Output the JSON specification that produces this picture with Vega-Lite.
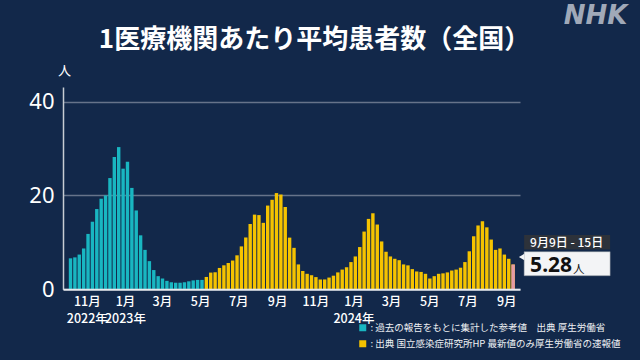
{
  "$schema": "https://vega.github.io/schema/vega-lite/v6.json",
  "width": 457,
  "height": 202.3,
  "autosize": {"type": "none"},
  "padding": {"left": 63, "top": 87, "right": 120, "bottom": 70.7},
  "background": "#12284a",
  "title": {
    "text": "1医療機関あたり平均患者数（全国）",
    "color": "#ffffff",
    "fontSize": 26,
    "fontWeight": "bold",
    "font": "Noto Sans CJK JP",
    "anchor": "middle",
    "frame": "group",
    "dx": 23,
    "offset": -50
  },
  "datasets": {
    "weekly": [
      {"date": "2022-10-06", "value": 6.6, "series": "A"},
      {"date": "2022-10-13", "value": 6.8, "series": "A"},
      {"date": "2022-10-20", "value": 7.4, "series": "A"},
      {"date": "2022-10-27", "value": 8.7, "series": "A"},
      {"date": "2022-11-03", "value": 11.8, "series": "A"},
      {"date": "2022-11-10", "value": 14.4, "series": "A"},
      {"date": "2022-11-17", "value": 17.1, "series": "A"},
      {"date": "2022-11-24", "value": 19.3, "series": "A"},
      {"date": "2022-12-01", "value": 20.0, "series": "A"},
      {"date": "2022-12-08", "value": 23.7, "series": "A"},
      {"date": "2022-12-15", "value": 28.2, "series": "A"},
      {"date": "2022-12-22", "value": 30.3, "series": "A"},
      {"date": "2022-12-29", "value": 25.7, "series": "A"},
      {"date": "2023-01-05", "value": 27.2, "series": "A"},
      {"date": "2023-01-12", "value": 21.6, "series": "A"},
      {"date": "2023-01-19", "value": 16.8, "series": "A"},
      {"date": "2023-01-26", "value": 11.5, "series": "A"},
      {"date": "2023-02-02", "value": 8.4, "series": "A"},
      {"date": "2023-02-09", "value": 6.0, "series": "A"},
      {"date": "2023-02-16", "value": 4.1, "series": "A"},
      {"date": "2023-02-23", "value": 2.8, "series": "A"},
      {"date": "2023-03-02", "value": 2.3, "series": "A"},
      {"date": "2023-03-09", "value": 1.8, "series": "A"},
      {"date": "2023-03-16", "value": 1.5, "series": "A"},
      {"date": "2023-03-23", "value": 1.4, "series": "A"},
      {"date": "2023-03-30", "value": 1.4, "series": "A"},
      {"date": "2023-04-06", "value": 1.5, "series": "A"},
      {"date": "2023-04-13", "value": 1.7, "series": "A"},
      {"date": "2023-04-20", "value": 1.9, "series": "A"},
      {"date": "2023-04-27", "value": 2.0, "series": "A"},
      {"date": "2023-05-04", "value": 2.0, "series": "A"},
      {"date": "2023-05-11", "value": 2.63, "series": "B"},
      {"date": "2023-05-18", "value": 3.56, "series": "B"},
      {"date": "2023-05-25", "value": 3.63, "series": "B"},
      {"date": "2023-06-01", "value": 4.55, "series": "B"},
      {"date": "2023-06-08", "value": 5.11, "series": "B"},
      {"date": "2023-06-15", "value": 5.6, "series": "B"},
      {"date": "2023-06-22", "value": 6.13, "series": "B"},
      {"date": "2023-06-29", "value": 7.24, "series": "B"},
      {"date": "2023-07-06", "value": 9.14, "series": "B"},
      {"date": "2023-07-13", "value": 11.04, "series": "B"},
      {"date": "2023-07-20", "value": 13.91, "series": "B"},
      {"date": "2023-07-27", "value": 15.91, "series": "B"},
      {"date": "2023-08-03", "value": 15.81, "series": "B"},
      {"date": "2023-08-10", "value": 14.16, "series": "B"},
      {"date": "2023-08-17", "value": 17.84, "series": "B"},
      {"date": "2023-08-24", "value": 19.07, "series": "B"},
      {"date": "2023-08-31", "value": 20.5, "series": "B"},
      {"date": "2023-09-07", "value": 20.19, "series": "B"},
      {"date": "2023-09-14", "value": 17.54, "series": "B"},
      {"date": "2023-09-21", "value": 11.01, "series": "B"},
      {"date": "2023-09-28", "value": 8.83, "series": "B"},
      {"date": "2023-10-05", "value": 5.3, "series": "B"},
      {"date": "2023-10-12", "value": 3.9, "series": "B"},
      {"date": "2023-10-19", "value": 3.3, "series": "B"},
      {"date": "2023-10-26", "value": 3.0, "series": "B"},
      {"date": "2023-11-02", "value": 2.6, "series": "B"},
      {"date": "2023-11-09", "value": 2.1, "series": "B"},
      {"date": "2023-11-16", "value": 2.1, "series": "B"},
      {"date": "2023-11-23", "value": 2.5, "series": "B"},
      {"date": "2023-11-30", "value": 2.9, "series": "B"},
      {"date": "2023-12-07", "value": 3.6, "series": "B"},
      {"date": "2023-12-14", "value": 4.2, "series": "B"},
      {"date": "2023-12-21", "value": 4.7, "series": "B"},
      {"date": "2023-12-28", "value": 5.8, "series": "B"},
      {"date": "2024-01-04", "value": 7.0, "series": "B"},
      {"date": "2024-01-11", "value": 9.0, "series": "B"},
      {"date": "2024-01-18", "value": 12.3, "series": "B"},
      {"date": "2024-01-25", "value": 15.0, "series": "B"},
      {"date": "2024-02-01", "value": 16.2, "series": "B"},
      {"date": "2024-02-08", "value": 13.8, "series": "B"},
      {"date": "2024-02-15", "value": 10.2, "series": "B"},
      {"date": "2024-02-22", "value": 8.0, "series": "B"},
      {"date": "2024-02-29", "value": 7.0, "series": "B"},
      {"date": "2024-03-07", "value": 6.5, "series": "B"},
      {"date": "2024-03-14", "value": 6.2, "series": "B"},
      {"date": "2024-03-21", "value": 5.3, "series": "B"},
      {"date": "2024-03-28", "value": 5.1, "series": "B"},
      {"date": "2024-04-04", "value": 4.3, "series": "B"},
      {"date": "2024-04-11", "value": 3.8, "series": "B"},
      {"date": "2024-04-18", "value": 3.7, "series": "B"},
      {"date": "2024-04-25", "value": 3.3, "series": "B"},
      {"date": "2024-05-02", "value": 2.3, "series": "B"},
      {"date": "2024-05-09", "value": 2.8, "series": "B"},
      {"date": "2024-05-16", "value": 3.3, "series": "B"},
      {"date": "2024-05-23", "value": 3.4, "series": "B"},
      {"date": "2024-05-30", "value": 3.6, "series": "B"},
      {"date": "2024-06-06", "value": 4.0, "series": "B"},
      {"date": "2024-06-13", "value": 4.2, "series": "B"},
      {"date": "2024-06-20", "value": 4.6, "series": "B"},
      {"date": "2024-06-27", "value": 5.8, "series": "B"},
      {"date": "2024-07-04", "value": 8.1, "series": "B"},
      {"date": "2024-07-11", "value": 11.3, "series": "B"},
      {"date": "2024-07-18", "value": 13.6, "series": "B"},
      {"date": "2024-07-25", "value": 14.5, "series": "B"},
      {"date": "2024-08-01", "value": 13.2, "series": "B"},
      {"date": "2024-08-08", "value": 10.6, "series": "B"},
      {"date": "2024-08-15", "value": 8.4, "series": "B"},
      {"date": "2024-08-22", "value": 8.7, "series": "B"},
      {"date": "2024-08-29", "value": 7.4, "series": "B"},
      {"date": "2024-09-05", "value": 6.5, "series": "B"},
      {"date": "2024-09-12", "value": 5.28, "series": "B"}
    ],
    "latest": [
      {"date": "2024-09-12", "value": 5.28, "period": "9月9日 - 15日", "unit": "人"}
    ]
  },
  "encoding": {
    "x": {
      "field": "date",
      "type": "temporal",
      "scale": {
        "type": "utc",
        "domain": [
          {"year": 2022, "month": 10, "date": 2, "utc": true},
          {"year": 2024, "month": 9, "date": 15, "utc": true}
        ]
      },
      "axis": {
        "values": [
          {"year": 2022, "month": 11, "date": 1, "utc": true},
          {"year": 2023, "month": 1, "date": 1, "utc": true},
          {"year": 2023, "month": 3, "date": 1, "utc": true},
          {"year": 2023, "month": 5, "date": 1, "utc": true},
          {"year": 2023, "month": 7, "date": 1, "utc": true},
          {"year": 2023, "month": 9, "date": 1, "utc": true},
          {"year": 2023, "month": 11, "date": 1, "utc": true},
          {"year": 2024, "month": 1, "date": 1, "utc": true},
          {"year": 2024, "month": 3, "date": 1, "utc": true},
          {"year": 2024, "month": 5, "date": 1, "utc": true},
          {"year": 2024, "month": 7, "date": 1, "utc": true},
          {"year": 2024, "month": 9, "date": 1, "utc": true}
        ],
        "labelExpr": "(utcmonth(datum.value) == 0 || (utcyear(datum.value) == 2022 && utcmonth(datum.value) == 10)) ? [(utcmonth(datum.value) + 1) + '月', utcyear(datum.value) + '年'] : (utcmonth(datum.value) + 1) + '月'",
        "labelOverlap": false,
        "labelBound": false,
        "labelFlush": false,
        "ticks": false,
        "grid": false,
        "zindex": 1,
        "domainColor": "#e6e9ed",
        "domainWidth": 2,
        "labelColor": "#ffffff",
        "labelFontSize": 12.5,
        "labelFont": "Noto Sans CJK JP",
        "labelFontWeight": 500,
        "labelPadding": 6,
        "labelLineHeight": 17.5,
        "title": "NHK",
        "titleX": 532,
        "titleY": -273.8,
        "titleBaseline": "middle",
        "titleAlign": "center",
        "titleAnchor": null,
        "titleFontSize": 26,
        "titleFontStyle": "italic",
        "titleFontWeight": "bold",
        "titleFont": "DejaVu Sans",
        "titleColor": "#a0a9b8"
      }
    },
    "y": {
      "field": "value",
      "type": "quantitative",
      "scale": {"domain": [0, 43.1], "nice": false, "zero": true},
      "axis": {
        "values": [0, 20, 40],
        "grid": true,
        "gridColor": "#66738a",
        "gridWidth": 1.5,
        "domainColor": "#c7ccd3",
        "domainWidth": 1.5,
        "ticks": false,
        "labelColor": "#ffffff",
        "labelFontSize": 22,
        "labelFont": "Noto Sans",
        "labelPadding": 9,
        "title": "人",
        "titleAngle": 0,
        "titleX": 1,
        "titleY": -17,
        "titleAlign": "center",
        "titleBaseline": "middle",
        "titleFontSize": 13,
        "titleFontWeight": "normal",
        "titleFont": "Noto Sans CJK JP",
        "titleColor": "#ffffff"
      }
    }
  },
  "layer": [
    {
      "data": {"name": "weekly"},
      "mark": {"type": "bar", "width": 3.4},
      "encoding": {
        "color": {
          "field": "series",
          "type": "nominal",
          "scale": {"domain": ["A", "B"], "range": ["#19b6c1", "#f5c300"]},
          "legend": {
            "title": null,
            "orient": "none",
            "legendX": 295,
            "legendY": 236,
            "symbolType": "square",
            "symbolSize": 49,
            "symbolStrokeWidth": 0,
            "labelColor": "#eef0f3",
            "labelFontSize": 9.5,
            "labelFont": "Noto Sans CJK JP",
            "labelLimit": 400,
            "labelOffset": 3,
            "rowPadding": 5,
            "labelExpr": "datum.label == 'A' ? ': 過去の報告をもとに集計した参考値　出典 厚生労働省' : ': 出典 国立感染症研究所HP 最新値のみ厚生労働省の速報値'"
          }
        }
      }
    },
    {
      "data": {"name": "latest"},
      "mark": {"type": "bar", "width": 3.4, "color": "#e59aa6"}
    },
    {
      "data": {"name": "latest"},
      "mark": {"type": "rect", "color": "#2d323a", "xOffset": 11, "x2Offset": 97, "yOffset": -29.5, "y2Offset": -15},
      "encoding": {"x2": {"field": "date"}, "y2": {"field": "value"}}
    },
    {
      "data": {"name": "latest"},
      "mark": {"type": "rect", "fill": "#f3f4f6", "stroke": "#8d939b", "strokeWidth": 0.5, "xOffset": 11, "x2Offset": 97, "yOffset": -12.8, "y2Offset": 11.2},
      "encoding": {"x2": {"field": "date"}, "y2": {"field": "value"}}
    },
    {
      "data": {"name": "latest"},
      "mark": {"type": "point", "shape": "triangle-left", "filled": true, "color": "#f3f4f6", "opacity": 1, "size": 40, "xOffset": 8.5, "yOffset": -7.5}
    },
    {
      "data": {"name": "latest"},
      "mark": {"type": "text", "align": "center", "baseline": "middle", "dx": 53.5, "dy": -22, "fontSize": 12, "fontWeight": 500, "color": "#ffffff", "font": "Noto Sans CJK JP"},
      "encoding": {"text": {"field": "period"}}
    },
    {
      "data": {"name": "latest"},
      "mark": {"type": "text", "align": "left", "baseline": "alphabetic", "dx": 17, "dy": 7.3, "fontSize": 21, "fontWeight": "bold", "color": "#111111", "font": "Noto Sans"},
      "encoding": {"text": {"field": "value", "type": "quantitative", "format": ".2f"}}
    },
    {
      "data": {"name": "latest"},
      "mark": {"type": "text", "align": "left", "baseline": "alphabetic", "dx": 60, "dy": 8.5, "fontSize": 11.5, "color": "#111111", "font": "Noto Sans CJK JP"},
      "encoding": {"text": {"field": "unit"}}
    }
  ],
  "config": {"view": {"stroke": null}, "font": "Noto Sans CJK JP"}
}
